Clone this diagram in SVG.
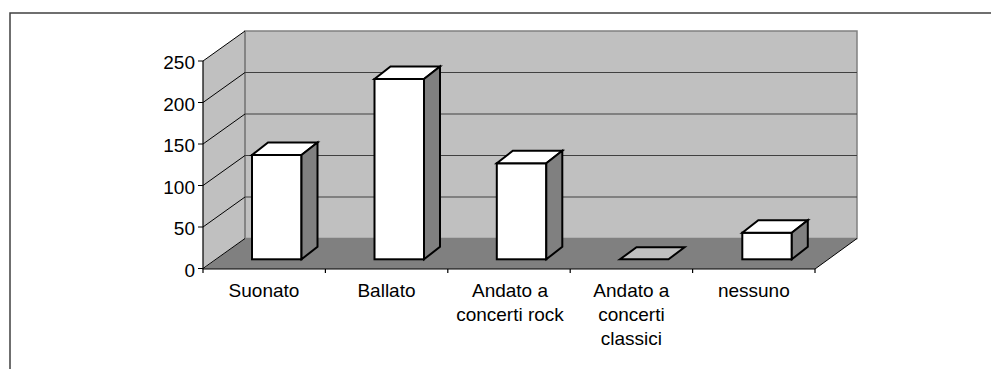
<svg xmlns="http://www.w3.org/2000/svg" width="991" height="369" viewBox="0 0 991 369">
<style>
text{font-family:"Liberation Sans",Arial,sans-serif;font-size:19px;fill:#000}
.yl{text-anchor:end}
.cl{text-anchor:middle}
.wall{fill:#c0c0c0}
.floor{fill:#808080}
.grid{stroke:#404040;stroke-width:1.2;fill:none}
.lg{stroke:#000;stroke-width:1;fill:none}
.ax{stroke:#000;stroke-width:1.2;fill:none}
.bar{stroke:#000;stroke-width:2;stroke-linejoin:miter}
.front{fill:#fff}
.top{fill:#fff}
.side{fill:#808080}
</style>
<rect width="991" height="369" fill="#fff"/>
<path d="M10,369 V13 H991" fill="none" stroke="#404040" stroke-width="1.5"/>
<g id="plot-area">
<polygon class="wall" points="203,61 245,31 245,238.5 203,269"/>
<rect class="wall" x="245" y="31" width="612" height="207.5" stroke="#808080" stroke-width="1.5"/>
<polygon class="floor" points="203,269 245,238.5 857,238.5 815,269"/>
<line x1="245" y1="31" x2="245" y2="238.5" stroke="#808080" stroke-width="1.5"/>
<path class="grid" d="M245,72.5 H857 M245,114 H857 M245,155.5 H857 M245,197 H857"/>
<path class="lg" d="M203,61 L245,31 M203,102.5 L245,72.5 M203,144 L245,114 M203,185.5 L245,155.5 M203,227 L245,197 M203,268.5 L245,238.5"/>
<path class="lg" d="M815,269 L857,238.5"/>
</g>
<g id="axes">
<path class="ax" d="M203,61 V269 H815"/>
<path class="ax" d="M198,61 H203 M198,102.5 H203 M198,144 H203 M198,185.5 H203 M198,227 H203 M198,268.5 H203"/>
<path class="ax" d="M203,269 V273 M325.4,269 V273 M447.8,269 V273 M570.2,269 V273 M692.6,269 V273 M815,269 V273"/>
<text class="yl" x="195" y="69">250</text>
<text class="yl" x="195" y="110.5">200</text>
<text class="yl" x="195" y="152">150</text>
<text class="yl" x="195" y="193.5">100</text>
<text class="yl" x="195" y="235">50</text>
<text class="yl" x="195" y="276.5">0</text>
</g>
<g id="bar-suonato" class="bar">
<rect class="front" x="252" y="155" width="49.5" height="104.3"/>
<polygon class="top" points="252,155 268,142.5 317.5,142.5 301.5,155"/>
<polygon class="side" points="301.5,155 317.5,142.5 317.5,246.8 301.5,259.3"/>
</g>
<g id="bar-ballato" class="bar">
<rect class="front" x="374.5" y="79" width="49.5" height="180.3"/>
<polygon class="top" points="374.5,79 390.5,66.5 440,66.5 424,79"/>
<polygon class="side" points="424,79 440,66.5 440,246.8 424,259.3"/>
</g>
<g id="bar-rock" class="bar">
<rect class="front" x="496.8" y="163.3" width="49.5" height="96"/>
<polygon class="top" points="496.8,163.3 512.8,150.8 562.3,150.8 546.3,163.3"/>
<polygon class="side" points="546.3,163.3 562.3,150.8 562.3,246.8 546.3,259.3"/>
</g>
<g id="bar-classici" class="bar">
<polygon fill="#c0c0c0" points="620,259.3 636.5,247.3 684.5,247.3 668.5,259.3"/>
</g>
<g id="bar-nessuno" class="bar">
<rect class="front" x="742.3" y="232.7" width="49.5" height="26.6"/>
<polygon class="top" points="742.3,232.7 758.3,220.2 807.8,220.2 791.8,232.7"/>
<polygon class="side" points="791.8,232.7 807.8,220.2 807.8,246.8 791.8,259.3"/>
</g>
<g id="category-labels">
<text class="cl" x="264" y="297">Suonato</text>
<text class="cl" x="386.5" y="297">Ballato</text>
<text class="cl" x="510" y="297">Andato a</text>
<text class="cl" x="510" y="321">concerti rock</text>
<text class="cl" x="631.4" y="297">Andato a</text>
<text class="cl" x="631.4" y="321">concerti</text>
<text class="cl" x="631.4" y="345">classici</text>
<text class="cl" x="753.8" y="297">nessuno</text>
</g>
</svg>
